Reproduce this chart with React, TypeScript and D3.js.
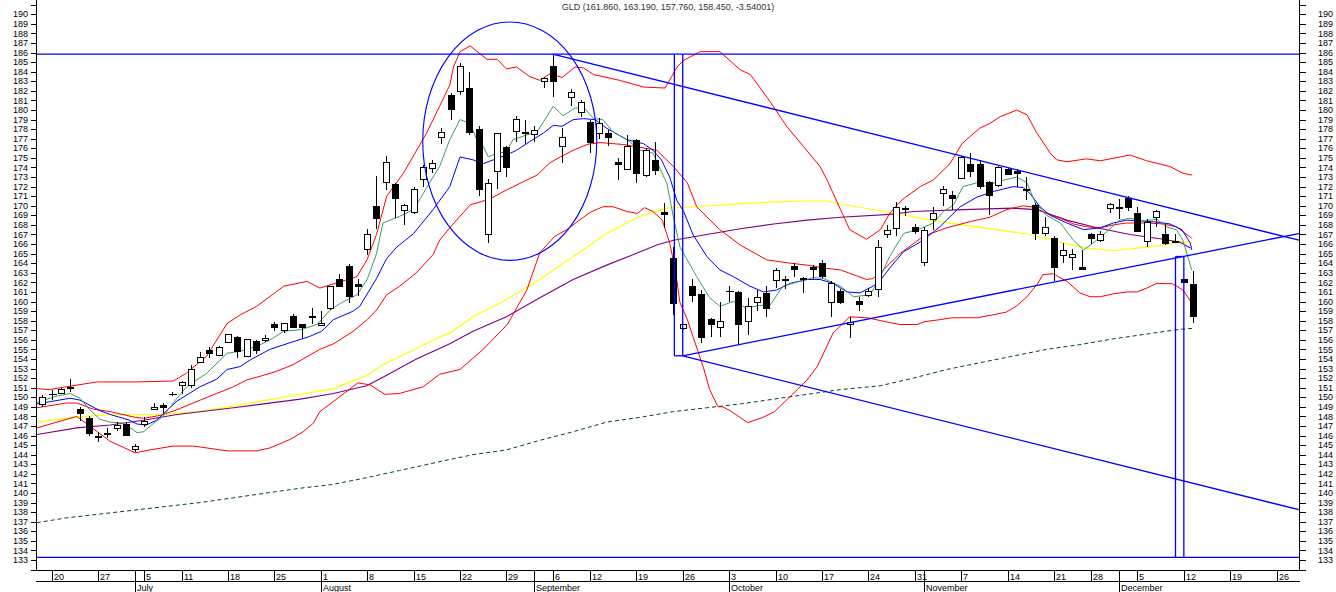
import React from 'react';
import * as d3 from 'd3';

const W = 1336;
const H = 592;
const PLOT_L = 36;
const PLOT_R = 1300;
const PLOT_B = 570;

const title = 'GLD (161.860, 163.190, 157.760, 158.450, -3.54001)';

// [open, high, low, close] per trading day, index 0 = 17 Jun
const candles: [number, number, number, number][] = [
  [149.3, 150.2, 149.0, 150.0], [150.3, 150.8, 149.7, 150.35], [150.4, 151.0, 150.3, 150.85], [151.0, 151.9, 150.5, 151.1],
  [148.8, 149.0, 147.5, 148.4], [147.8, 148.0, 146.0, 146.3], [145.8, 146.4, 145.3, 145.9], [146.2, 146.8, 145.7, 146.25],
  [146.8, 147.4, 146.5, 147.1], [147.2, 147.3, 146.0, 146.1], [144.6, 145.1, 144.3, 144.9], [147.2, 147.9, 146.9, 147.5],
  [148.75, 149.4, 148.7, 149.0], [149.2, 149.4, 148.4, 149.0], [150.3, 150.6, 150.1, 150.35], [151.3, 151.7, 150.3, 151.6],
  [151.3, 153.4, 151.0, 152.9], [153.7, 154.7, 153.6, 154.2], [154.9, 155.3, 154.1, 154.6], [154.4, 155.4, 154.3, 155.2],
  [155.8, 156.6, 155.8, 156.6], [156.3, 156.4, 154.1, 154.8], [154.3, 156.1, 154.3, 156.1], [155.9, 156.0, 154.5, 154.9],
  [156.0, 156.5, 155.8, 156.2], [157.6, 157.9, 156.9, 157.3], [157.0, 157.8, 156.7, 157.8], [158.5, 158.7, 157.2, 157.3],
  [157.6, 157.7, 156.2, 157.3], [158.35, 159.3, 157.7, 158.45], [157.5, 159.0, 157.4, 157.8], [159.3, 161.6, 159.1, 161.6],
  [162.3, 162.9, 161.5, 161.6], [163.7, 163.9, 159.8, 160.6], [161.8, 162.3, 160.6, 161.6], [165.5, 167.6, 164.9, 167.1],
  [170.0, 173.1, 167.6, 168.7], [172.5, 175.2, 171.6, 174.6], [172.3, 172.4, 168.7, 170.8], [169.6, 170.2, 168.0, 170.1],
  [169.4, 172.0, 169.1, 171.8], [172.8, 174.3, 172.0, 174.1], [173.9, 174.8, 173.4, 174.5], [177.2, 178.1, 176.5, 177.7],
  [181.6, 181.8, 179.0, 180.1], [182.0, 184.9, 181.6, 184.6], [182.3, 184.0, 177.4, 177.7], [178.0, 178.3, 171.0, 171.7],
  [167.1, 172.8, 166.1, 172.4], [173.6, 177.6, 171.8, 177.6], [176.1, 176.2, 173.0, 174.0], [177.8, 179.4, 176.7, 179.1],
  [177.65, 179.0, 176.5, 177.75], [177.5, 178.3, 176.7, 177.9], [183.0, 183.4, 182.3, 183.3], [184.6, 185.9, 181.4, 183.0],
  [176.2, 178.1, 174.5, 177.2], [181.4, 182.2, 180.4, 181.9], [179.8, 181.0, 179.3, 180.8], [178.8, 179.0, 175.5, 176.7],
  [177.6, 179.2, 177.0, 178.6], [177.6, 177.9, 176.2, 177.2], [174.6, 175.0, 172.7, 174.4], [173.8, 177.4, 173.7, 176.2],
  [176.9, 177.0, 172.4, 173.4], [173.2, 176.0, 173.0, 175.8], [174.8, 176.7, 173.2, 173.7], [169.4, 170.3, 167.7, 169.1],
  [164.5, 165.7, 158.6, 159.8], [157.2, 157.7, 157.0, 157.6], [161.6, 162.3, 160.0, 160.7], [160.8, 161.2, 155.7, 156.3],
  [158.2, 158.3, 156.3, 157.7], [157.3, 160.0, 156.3, 158.0], [161.05, 161.6, 160.0, 161.15], [161.0, 161.1, 155.5, 157.7],
  [158.0, 160.4, 156.5, 159.55], [160.0, 161.2, 159.0, 160.5], [160.9, 161.6, 158.4, 159.3], [162.2, 163.5, 161.4, 163.3],
  [162.25, 162.7, 161.3, 162.35], [163.7, 164.0, 162.6, 163.4], [162.35, 162.6, 160.9, 162.45], [163.6, 163.8, 162.3, 163.4],
  [164.0, 164.3, 162.5, 162.7], [160.0, 162.1, 158.4, 161.9], [161.1, 161.3, 159.7, 159.9], [157.6, 158.4, 156.2, 157.9],
  [160.1, 160.5, 159.0, 159.7], [160.7, 161.4, 160.5, 161.05], [161.3, 166.4, 160.5, 165.7], [167.1, 168.0, 166.6, 167.5],
  [167.7, 170.4, 166.8, 169.9], [169.65, 170.0, 168.9, 169.75], [167.8, 168.1, 167.0, 167.4], [164.1, 167.8, 163.7, 167.5],
  [168.6, 169.9, 167.5, 169.2], [171.3, 172.1, 170.0, 171.8], [171.1, 171.5, 169.6, 170.8], [172.9, 175.2, 172.8, 175.1],
  [174.4, 175.5, 173.0, 173.6], [174.4, 174.8, 171.7, 172.1], [172.5, 172.6, 169.0, 171.1], [172.2, 174.2, 172.0, 174.1],
  [173.8, 173.9, 173.2, 173.3], [173.6, 173.8, 172.0, 173.4], [171.65, 173.0, 170.6, 171.75], [170.1, 170.3, 166.4, 167.2],
  [167.2, 168.8, 166.8, 167.8], [166.6, 166.8, 162.1, 163.6], [164.9, 166.1, 164.0, 165.4], [164.6, 165.5, 163.3, 165.0],
  [163.6, 165.4, 163.4, 163.4], [167.0, 167.2, 166.0, 166.6], [166.4, 167.4, 166.2, 167.0], [169.8, 170.3, 169.2, 170.2],
  [169.9, 170.7, 168.6, 169.8], [170.8, 171.0, 169.5, 169.9], [169.2, 169.9, 167.3, 167.4], [166.3, 168.6, 165.7, 168.3],
  [168.8, 169.6, 167.8, 169.5], [167.0, 168.0, 165.9, 166.1], [166.25, 167.1, 166.1, 166.35], [162.3, 162.4, 161.9, 162.0],
  [161.86, 163.19, 157.76, 158.45],
];

// indicator lines: [day index, value]
const bbUpper: [number, number][] = [
  [-0.6, 150.9], [0.8, 150.8], [2.6, 151.1], [5.9, 151.6], [10.2, 151.6], [14.1, 151.7], [15.5, 152.5], [17.7, 154.3],
  [19.9, 157.7], [21.3, 158.6], [23.1, 159.5], [26.0, 161.6], [28.5, 162.1], [29.9, 161.4], [33.9, 162.6], [35.0, 164.4],
  [36.0, 167.0], [37.1, 171.0], [38.9, 173.4], [41.4, 177.6], [42.8, 180.4], [43.9, 182.6], [44.3, 184.5], [45.0, 186.1],
  [46.1, 186.7], [47.9, 185.3], [49.0, 185.3], [50.0, 184.3], [51.1, 184.5], [52.5, 183.5], [53.6, 183.1], [54.7, 183.8],
  [56.0, 183.4], [57.4, 184.5], [58.3, 184.4], [59.4, 183.7], [62.2, 183.1], [64.8, 182.4], [67.1, 182.3], [68.4, 184.5],
  [69.1, 185.2], [70.9, 186.1], [73.0, 186.1], [75.2, 184.2], [76.3, 183.7], [78.4, 180.9], [80.2, 178.3], [82.0, 176.2],
  [83.8, 174.1], [84.6, 172.6], [86.0, 169.6], [87.0, 167.5], [88.8, 166.5], [90.3, 167.5], [91.3, 169.2], [92.6, 170.6],
  [94.6, 172.0], [96.0, 172.7], [97.8, 174.4], [99.1, 176.5], [101.0, 178.1], [102.1, 178.6], [103.2, 179.3], [105.0, 180.0],
  [106.1, 179.5], [107.1, 177.7], [108.6, 175.5], [109.3, 174.8], [110.4, 174.6], [112.5, 174.9], [114.0, 174.7],
  [117.2, 175.3], [119.0, 174.7], [121.5, 174.1], [122.9, 173.4], [123.9, 173.2],
];

const bbMiddle: [number, number][] = [
  [-0.6, 148.9], [2.6, 149.4], [3.7, 149.4], [5.5, 148.75], [7.3, 148.5], [10.0, 147.9], [10.9, 147.8], [12.7, 148.1],
  [14.5, 148.7], [17.0, 149.7], [18.8, 150.4], [20.6, 151.1], [22.0, 151.8], [23.5, 152.2], [25.2, 152.7], [27.0, 153.4],
  [29.9, 155.0], [31.4, 155.6], [33.5, 156.9], [35.0, 158.1], [36.0, 159.1], [37.1, 160.7], [38.5, 161.6], [40.3, 163.0],
  [42.1, 164.9], [42.8, 166.4], [43.9, 167.7], [46.1, 170.1], [48.2, 170.7], [50.1, 171.7], [51.8, 172.5], [53.3, 173.2],
  [54.7, 174.5], [55.8, 175.1], [57.2, 175.8], [58.7, 176.4], [60.1, 176.6], [62.6, 176.4], [64.4, 176.1], [66.2, 175.8],
  [68.0, 174.1], [69.5, 172.4], [70.5, 169.9], [73.0, 167.5], [75.2, 165.9], [78.05, 164.35], [80.6, 164.0], [82.4, 163.8],
  [84.2, 163.5], [86.0, 163.3], [88.8, 162.3], [89.5, 162.4], [90.3, 163.0], [92.4, 165.0], [94.9, 166.8], [97.45, 167.7],
  [100.0, 168.35], [102.1, 168.8], [103.9, 169.6], [105.7, 170.0], [106.8, 169.85], [108.2, 169.2], [109.7, 168.7],
  [111.1, 168.1], [112.5, 167.8], [114.0, 167.7], [115.4, 168.0], [116.8, 168.2], [119.0, 168.2], [120.8, 168.1],
  [122.2, 167.8], [122.9, 167.3], [123.85, 166.6],
];

const bbLower: [number, number][] = [
  [-0.6, 146.8], [3.7, 148.0], [7.3, 145.4], [10.0, 144.2], [11.6, 144.5], [14.1, 144.9], [16.3, 144.9], [19.9, 144.4],
  [23.1, 144.4], [24.5, 144.7], [26.7, 145.6], [28.1, 146.4], [29.2, 147.3], [29.9, 148.5], [32.1, 150.1], [34.0, 151.5],
  [35.3, 151.3], [36.9, 150.3], [38.5, 150.4], [41.05, 151.1], [42.8, 152.4], [45.0, 152.9], [47.5, 155.0], [50.1, 157.6],
  [52.2, 161.2], [53.6, 165.1], [55.2, 166.8], [56.5, 167.5], [57.6, 168.3], [59.0, 169.3], [60.4, 169.9], [61.5, 169.9],
  [63.0, 169.4], [64.1, 169.2], [64.9, 169.8], [65.8, 169.4], [66.8, 168.5], [67.6, 166.1], [68.2, 163.3], [68.7, 159.9],
  [69.5, 158.1], [70.1, 156.35], [71.2, 153.2], [71.9, 150.8], [72.8, 149.0], [73.3, 149.0], [74.1, 148.6], [76.0, 147.35],
  [77.65, 147.9], [78.9, 148.5], [80.6, 150.1], [82.4, 151.8], [83.5, 153.2], [85.2, 156.7], [87.0, 158.4], [88.9, 158.3],
  [91.3, 157.8], [92.4, 157.6], [94.25, 157.6], [95.1, 157.9], [96.7, 158.1], [98.0, 158.3], [100.7, 158.3], [102.4, 158.6],
  [103.9, 158.9], [105.0, 159.55], [106.1, 160.5], [107.2, 161.8], [107.8, 162.8], [108.9, 162.9], [110.4, 162.1],
  [111.8, 160.9], [112.9, 160.5], [114.0, 160.5], [115.4, 160.8], [116.9, 161.0], [117.95, 161.0], [119.0, 161.4],
  [120.1, 161.9], [121.8, 161.85], [122.9, 161.2], [123.9, 159.8],
];

const maGreen: [number, number][] = [
  [-0.6, 149.45], [1.5, 150.1], [3.0, 150.4], [4.05, 149.9], [5.1, 148.7], [6.2, 147.7], [7.3, 147.4], [8.7, 147.3],
  [9.8, 146.6], [10.2, 146.3], [10.9, 146.4], [12.0, 147.3], [13.0, 148.0], [14.5, 149.9], [15.55, 151.1], [17.7, 152.5],
  [19.9, 154.6], [21.3, 154.8], [23.1, 155.3], [24.9, 156.2], [26.0, 156.9], [27.8, 157.05], [29.6, 157.6], [31.0, 159.1],
  [32.1, 159.8], [33.9, 160.7], [35.0, 162.3], [36.0, 165.0], [36.7, 168.2], [38.5, 168.9], [40.0, 169.6], [42.1, 173.0],
  [42.8, 174.1], [43.9, 176.9], [45.0, 179.0], [46.1, 178.6], [46.8, 176.9], [47.5, 176.2], [48.05, 175.1], [48.95, 175.5],
  [50.0, 175.6], [50.7, 176.9], [52.2, 177.4], [53.3, 177.7], [55.05, 180.4], [56.1, 179.4], [57.4, 180.2], [58.3, 180.3],
  [59.4, 179.1], [60.4, 179.0], [61.5, 177.7], [63.0, 176.9], [64.4, 175.8], [65.8, 175.5], [67.3, 172.3], [68.0, 168.8],
  [68.7, 165.7], [69.4, 164.5], [70.5, 162.6], [71.9, 160.4], [73.0, 159.5], [74.45, 160.0], [75.9, 159.3], [77.3, 159.6],
  [78.4, 159.6], [79.8, 161.6], [81.6, 162.1], [83.1, 162.5], [84.2, 162.4], [86.0, 161.6], [87.4, 160.5], [89.2, 160.7],
  [90.3, 162.6], [91.3, 164.7], [92.8, 167.1], [94.6, 167.6], [96.0, 168.2], [97.1, 169.4], [98.2, 170.1], [99.2, 172.0],
  [100.7, 172.4], [101.8, 172.0], [102.8, 172.5], [105.0, 173.0], [106.1, 172.4], [107.0, 170.3], [108.2, 169.0],
  [109.7, 168.2], [111.1, 166.4], [112.2, 165.4], [113.2, 166.1], [114.7, 167.3], [116.1, 168.5], [117.2, 168.7],
  [118.6, 168.4], [120.1, 168.6], [121.15, 167.8], [122.2, 167.5], [122.9, 166.4], [123.85, 163.3],
];

const maBlue: [number, number][] = [
  [-0.6, 149.3], [3.0, 149.9], [4.05, 149.7], [6.2, 148.6], [7.3, 148.2], [9.4, 147.6], [10.2, 147.2], [11.2, 147.1],
  [12.3, 147.6], [14.5, 149.6], [17.0, 151.1], [18.8, 151.9], [19.9, 152.9], [21.3, 153.2], [22.4, 153.9], [24.5, 155.0],
  [26.7, 155.7], [28.8, 156.35], [30.1, 156.9], [31.35, 158.1], [33.5, 159.0], [34.2, 159.5], [36.0, 162.4], [37.1, 164.5],
  [38.2, 165.7], [40.0, 167.1], [42.1, 169.6], [43.9, 172.0], [45.0, 175.1], [46.4, 174.8], [47.5, 174.4], [48.6, 174.8],
  [50.0, 175.3], [51.1, 175.8], [52.5, 176.7], [54.0, 177.6], [55.05, 178.4], [56.0, 178.3], [57.2, 179.0], [58.3, 179.1],
  [59.55, 179.0], [60.8, 178.1], [63.0, 176.9], [64.75, 176.5], [65.8, 175.8], [66.7, 174.8], [67.6, 173.0], [68.35, 170.6],
  [69.1, 169.4], [70.1, 167.0], [71.6, 164.7], [73.0, 163.3], [74.45, 162.6], [76.25, 161.6], [77.7, 161.0], [79.1, 161.2],
  [80.6, 161.9], [82.4, 162.3], [83.8, 162.3], [85.2, 161.9], [86.7, 161.0], [88.1, 160.9], [89.5, 161.6], [90.3, 162.2],
  [91.3, 163.5], [92.8, 165.2], [94.9, 166.4], [96.7, 167.8], [98.9, 169.9], [100.7, 170.9], [102.5, 171.5], [104.6, 172.0],
  [105.7, 171.9], [106.4, 171.3], [107.5, 169.9], [108.6, 169.0], [110.4, 168.2], [112.2, 167.5], [114.0, 167.7],
  [115.4, 168.2], [116.8, 168.5], [118.6, 168.4], [120.1, 168.3], [121.5, 168.1], [122.8, 167.5], [123.7, 166.1],
  [123.85, 165.4],
];

const maYellow: [number, number][] = [
  [-0.6, 147.4], [3.3, 147.9], [7.3, 148.2], [12.7, 148.2], [17.0, 148.5], [20.6, 149.1], [24.2, 149.7], [27.8, 150.3],
  [31.35, 150.9], [33.2, 151.6], [35.0, 152.3], [36.7, 153.4], [40.3, 155.1], [42.8, 156.3], [43.9, 156.7], [46.4, 158.4],
  [50.0, 160.2], [53.6, 162.3], [57.2, 164.7], [60.8, 167.1], [64.4, 168.9], [67.3, 169.75], [70.1, 169.9], [75.2, 170.2],
  [78.8, 170.4], [82.4, 170.5], [84.5, 170.5], [87.75, 169.9], [91.3, 169.3], [92.8, 169.05], [95.65, 168.5], [99.2, 168.0],
  [102.8, 167.5], [106.4, 167.0], [110.0, 166.1], [112.5, 165.6], [115.4, 165.3], [118.3, 165.6], [120.8, 165.9],
  [122.6, 166.2], [123.85, 166.2],
];

const maPurple: [number, number][] = [
  [-0.6, 146.1], [3.7, 146.8], [7.3, 147.1], [10.9, 147.6], [14.5, 148.2], [20.6, 148.9], [27.8, 149.8], [31.35, 150.4],
  [34.95, 151.2], [36.7, 152.1], [40.3, 154.0], [42.8, 155.1], [43.9, 155.6], [46.4, 156.9], [50.0, 158.4], [53.6, 160.4],
  [57.2, 162.3], [60.8, 163.8], [63.7, 164.9], [66.2, 165.9], [68.0, 166.4], [71.6, 167.0], [75.2, 167.6], [78.8, 168.1],
  [82.4, 168.5], [86.0, 168.8], [91.3, 169.1], [93.85, 169.4], [99.2, 169.6], [104.6, 169.75], [107.1, 169.6],
  [110.4, 168.5], [113.6, 167.7], [117.2, 167.0], [120.8, 166.5], [122.6, 166.2], [123.7, 165.6],
];

const ma200: [number, number][] = [
  [-0.6, 136.9], [2.6, 137.4], [6.2, 137.8], [9.8, 138.2], [13.4, 138.6], [17.0, 139.0], [20.6, 139.5], [24.2, 140.0],
  [27.8, 140.5], [31.35, 140.9], [34.95, 141.6], [38.5, 142.35], [43.9, 143.5], [46.4, 144.0], [50.0, 144.5], [53.6, 145.5],
  [57.2, 146.4], [60.8, 147.4], [64.4, 147.9], [68.0, 148.5], [71.6, 148.9], [75.2, 149.3], [78.8, 149.8], [82.4, 150.3],
  [86.0, 150.8], [90.3, 151.2], [93.85, 152.0], [97.45, 152.9], [101.0, 153.6], [104.6, 154.3], [108.2, 155.0],
  [111.8, 155.5], [115.4, 156.1], [119.0, 156.6], [122.6, 157.1], [124.0, 157.2],
];

// drawn annotations
const hLevels = [185.85, 133.27];
const ellipseCenter: [number, number] = [50.36, 176.75];
const ellipseRadius: [number, number] = [9.375, 12.45];
const trendLines: [[number, number], [number, number]][] = [
  [[55.0, 185.85], [135.4, 166.4]],
  [[69.0, 154.33], [135.4, 138.25]],
  [[69.0, 154.33], [135.4, 167.1]],
];
const boxes: { i0: number; i1: number; top: number; bottom: number; capTop: boolean }[] = [
  { i0: 68.1, i1: 69.0, top: 185.85, bottom: 154.33, capTop: false },
  { i0: 122.1, i1: 123.0, top: 164.7, bottom: 133.27, capTop: true },
];

const weekTicks: [number, string][] = [
  [1, '20'], [6, '27'], [11, '5'], [15, '11'], [20, '18'], [25, '25'], [30, '1'], [35, '8'], [40, '15'], [45, '22'],
  [50, '29'], [55, '6'], [59, '12'], [64, '19'], [69, '26'], [74, '3'], [79, '10'], [84, '17'], [89, '24'], [94, '31'],
  [99, '7'], [104, '14'], [109, '21'], [113, '28'], [118, '5'], [123, '12'], [128, '19'], [133, '26'],
];
const monthTicks: [number, string][] = [
  [10, 'July'], [30, 'August'], [53, 'September'], [74, 'October'], [95, 'November'], [116, 'December'],
];
const yTicks = d3.range(132, 192);
const yLabels = d3.range(133, 191);

const FONT = '"Liberation Sans", Arial, sans-serif';

export default function App() {
  const x = d3.scaleLinear().domain([0, 100]).range([42.4, 970.4]);
  const y = d3.scaleLinear().domain([133, 190]).range([560, 14.3]);
  const line = d3
    .line<[number, number]>()
    .x((d) => x(d[0]))
    .y((d) => y(d[1]));
  const px = (v: number) => Math.round(v) + 0.5;

  const ex = x(ellipseCenter[0]);
  const ey = y(ellipseCenter[1]);
  const erx = x(ellipseCenter[0] + ellipseRadius[0]) - ex;
  const ery = ey - y(ellipseCenter[1] + ellipseRadius[1]);

  return (
    <svg
      width={W}
      height={H}
      style={{ position: 'absolute', left: 0, top: 0, display: 'block' }}
      fontFamily={FONT}
    >
      <defs>
        <clipPath id="plot">
          <rect x={PLOT_L + 1} y={0} width={PLOT_R - PLOT_L - 1} height={PLOT_B} />
        </clipPath>
      </defs>
      <rect x={0} y={0} width={W} height={H} fill="#ffffff" />

      <text x={(PLOT_L + PLOT_R) / 2} y={10} fontSize={9} fill="#333" textAnchor="middle">
        {title}
      </text>

      <g clipPath="url(#plot)" fill="none">
        <path d={line(ma200) || ''} stroke="#004040" strokeWidth={1} strokeDasharray="4,3" />
        <path d={line(maYellow) || ''} stroke="#ffff00" strokeWidth={1.2} />
        <path d={line(maPurple) || ''} stroke="#800080" strokeWidth={1.1} />
        <path d={line(bbLower) || ''} stroke="#ff0000" strokeWidth={1} />
        <path d={line(bbUpper) || ''} stroke="#ff0000" strokeWidth={1} />
        <path d={line(bbMiddle) || ''} stroke="#ff0000" strokeWidth={1} />
        <path d={line(maBlue) || ''} stroke="#0000ff" strokeWidth={1} />
        <path d={line(maGreen) || ''} stroke="#3a9e6a" strokeWidth={1} />
      </g>

      <g clipPath="url(#plot)" shapeRendering="crispEdges">
        {candles.map(([o, h, l, c], i) => {
          const cx = px(x(i));
          const yTop = Math.round(y(Math.max(o, c)));
          const yBot = Math.round(y(Math.min(o, c)));
          const up = c >= o;
          return (
            <g key={i}>
              <line x1={cx} x2={cx} y1={Math.round(y(h))} y2={Math.round(y(l))} stroke="#000" />
              {yBot - yTop < 1 ? (
                <line x1={cx - 3.5} x2={cx + 4.5} y1={yTop + 0.5} y2={yTop + 0.5} stroke="#000" />
              ) : (
                <rect
                  x={cx - 3}
                  y={yTop + 0.5}
                  width={6}
                  height={yBot - yTop}
                  fill={up ? '#fff' : '#000'}
                  stroke="#000"
                />
              )}
            </g>
          );
        })}
      </g>

      <g clipPath="url(#plot)" fill="none" stroke="#0000ff" strokeWidth={1.3}>
        {hLevels.map((v, k) => (
          <line key={k} x1={PLOT_L} x2={PLOT_R} y1={y(v)} y2={y(v)} />
        ))}
        <ellipse cx={ex} cy={ey} rx={erx} ry={ery} strokeWidth={1.1} />
        {trendLines.map((t, k) => (
          <line key={k} x1={x(t[0][0])} y1={y(t[0][1])} x2={x(t[1][0])} y2={y(t[1][1])} />
        ))}
        {boxes.map((b, k) => (
          <g key={k}>
            <line x1={x(b.i0)} x2={x(b.i0)} y1={y(b.top)} y2={y(b.bottom)} />
            <line x1={x(b.i1)} x2={x(b.i1)} y1={y(b.top)} y2={y(b.bottom)} />
            {b.capTop ? (
              <line x1={x(b.i0)} x2={x(b.i1)} y1={y(b.top)} y2={y(b.top)} />
            ) : (
              <line x1={x(b.i0)} x2={x(b.i1)} y1={y(b.bottom)} y2={y(b.bottom)} />
            )}
          </g>
        ))}
      </g>

      {/* axes */}
      <g shapeRendering="crispEdges" stroke="#000" strokeWidth={1}>
        <line x1={PLOT_L + 0.5} x2={PLOT_L + 0.5} y1={0} y2={PLOT_B} />
        <line x1={PLOT_R - 0.5} x2={PLOT_R - 0.5} y1={0} y2={PLOT_B} />
        <line x1={PLOT_L} x2={PLOT_R} y1={PLOT_B + 0.5} y2={PLOT_B + 0.5} />
        <line x1={PLOT_L} x2={PLOT_R} y1={581.5} y2={581.5} />
        {yTicks.map((v) => (
          <g key={v}>
            <line x1={PLOT_L - 5} x2={PLOT_L} y1={px(y(v))} y2={px(y(v))} />
            <line x1={PLOT_R} x2={PLOT_R + 6} y1={px(y(v))} y2={px(y(v))} />
          </g>
        ))}
        {weekTicks.map(([i, lab]) => (
          <line key={'w' + i + lab} x1={px(x(i))} x2={px(x(i))} y1={PLOT_B} y2={581} />
        ))}
        {monthTicks.map(([i, lab]) => (
          <line key={'m' + lab} x1={px(x(i))} x2={px(x(i))} y1={PLOT_B} y2={H} />
        ))}
      </g>

      <g fontSize={9} fill="#000">
        {yLabels.map((v) => (
          <g key={v}>
            <text x={28} y={y(v)} dy="0.35em" textAnchor="end">
              {v}
            </text>
            <text x={1318} y={y(v)} dy="0.35em" textAnchor="start">
              {v}
            </text>
          </g>
        ))}
        {weekTicks.map(([i, lab]) => (
          <text key={'wl' + i + lab} x={px(x(i)) + 1.5} y={579.5}>
            {lab}
          </text>
        ))}
        {monthTicks.map(([i, lab]) => (
          <text key={'ml' + lab} x={px(x(i)) + 1.5} y={590.5}>
            {lab}
          </text>
        ))}
      </g>
    </svg>
  );
}
